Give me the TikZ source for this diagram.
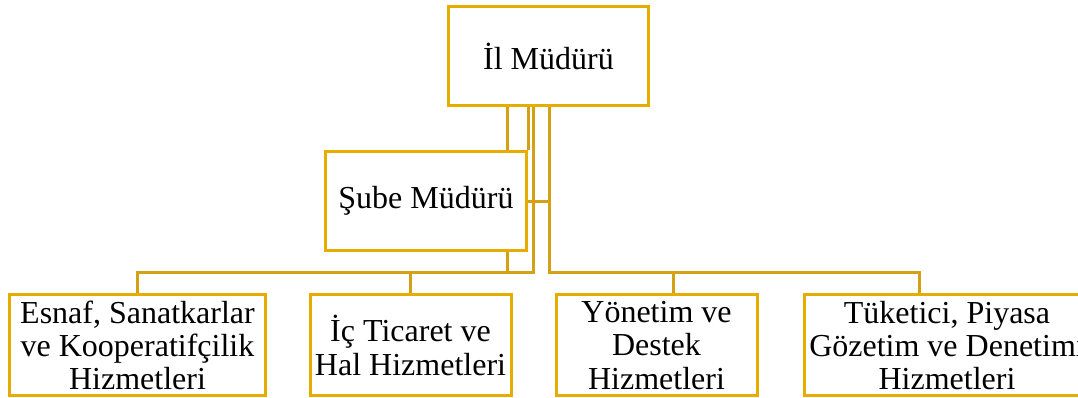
\documentclass[tikz,border=0pt]{standalone}
\usepackage{fontspec}
\setmainfont{Liberation Serif}
\definecolor{boxgold}{RGB}{230,172,0}
\definecolor{linegold}{RGB}{212,160,20}
\begin{document}
\begin{tikzpicture}[x=0.75pt,y=-0.75pt,
  box/.style={draw=boxgold, line width=2.25pt, rectangle, inner sep=0pt, align=center, font=\fontsize{24}{25}\selectfont},
  conn/.style={draw=linegold, line width=2.25pt}]
\useasboundingbox (0,0) rectangle (1078,398);
\clip (0,0) rectangle (1078,398);
% junction coordinates
\coordinate (xa) at (507,0);
\coordinate (xc) at (533,0);
\coordinate (xd) at (549,0);
\coordinate (d3) at (673,0);
\coordinate (d4) at (919,0);
\coordinate (bus) at (0,273);
\coordinate (mid) at (0,202);
% boxes
\node[box, minimum width=150pt, minimum height=74.25pt] (il) at (548.5,56.5) {İl Müdürü};
\node[box, minimum width=150.75pt, minimum height=74.25pt] (sube) at (426,201) {Şube Müdürü};
\node[box, minimum width=192pt, minimum height=75.75pt] (b1) at (137.5,345.5) {Esnaf, Sanatkarlar\\ve Kooperatifçilik\\Hizmetleri};
\node[box, minimum width=150.75pt, minimum height=75.75pt] (b2) at (410.5,345.5) {İç Ticaret ve\\Hal Hizmetleri};
\node[box, minimum width=150.75pt, minimum height=75.75pt] (b3) at (656.5,345.5) {Yönetim ve\\Destek\\Hizmetleri};
\node[box, minimum width=214.5pt, minimum height=75.75pt] (b4) at (947,345.5) {Tüketici, Piyasa\\Gözetim ve Denetimi\\Hizmetleri};
% connectors
\draw[conn] (il.south -| xa) -- (sube.north -| xa);
\draw[conn] (il.south -| sube.east) -- (sube.north east);
\draw[conn] (sube.south -| xa) -- (bus -| xa);
\draw[conn] (il.south -| xc) -- (bus -| xc) -- (bus -| b1.north) -- (b1.north);
\draw[conn] (bus -| b2.north) -- (b2.north);
\draw[conn] (il.south -| xd) -- (bus -| xd) -- (bus -| d4) -- (b4.north -| d4);
\draw[conn] (bus -| d3) -- (b3.north -| d3);
\draw[conn] (mid -| sube.east) -- (mid -| xd);
\end{tikzpicture}
\end{document}
